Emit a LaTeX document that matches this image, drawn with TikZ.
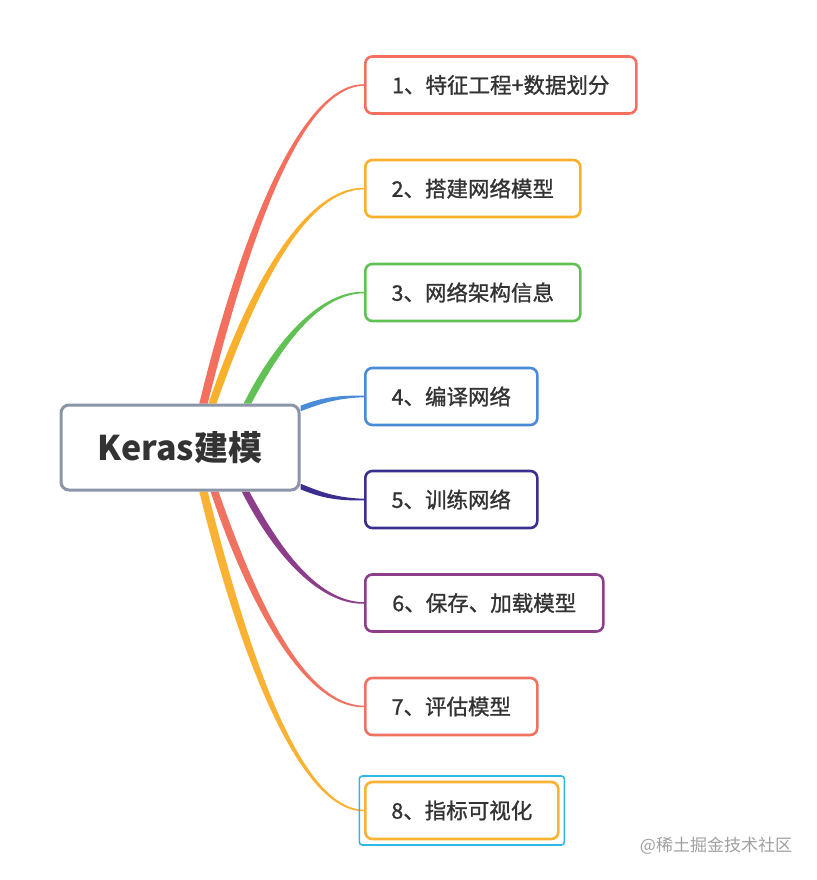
\documentclass[tikz,border=0pt]{standalone}
\usepackage{fontspec}
\setmainfont{Noto Sans CJK SC}
\newfontfamily\topicfont{Noto Sans CJK SC}[FakeBold=1.1]
\usetikzlibrary{calc,backgrounds}
\definecolor{cred}{HTML}{F46F5E}
\definecolor{corange}{HTML}{F9B02C}
\definecolor{cgreen}{HTML}{62C154}
\definecolor{cblue}{HTML}{4A8BD7}
\definecolor{cindigo}{HTML}{3A2F8E}
\definecolor{cpurple}{HTML}{8D3E8A}
\definecolor{csalmon}{HTML}{F07261}
\definecolor{corangeb}{HTML}{F9B233}
\definecolor{cgray}{HTML}{8C95A8}
\definecolor{ctext}{HTML}{333333}
\definecolor{ccyan}{HTML}{2EB8E6}
\definecolor{cmark}{HTML}{A0A0A0}
% vertical-ish tapered branch: #1 colour, #2 start, #3 end, #4 half width, #5 sign (1 up, -1 down)
\newcommand\vbranch[5]{%
 \fill[#1] let \p1=(#2), \p2=(#3), \n1={\x2-\x1}, \n2={\y2-\y1} in
  ({\x1-#4},{\y1}) .. controls ({\x1+0.25*\n1-1.1*#4},{\y1+0.51*\n2+(#5)*0.3*#4}) and ({\x1+0.6*\n1},{\y2+(#5)*0.45*#4}) .. ({\x2},{\y2+(#5)*0.75pt})
  -- ({\x2},{\y2-(#5)*0.75pt}) .. controls ({\x1+0.6*\n1},{\y2-(#5)*0.45*#4}) and ({\x1+0.25*\n1+1.1*#4},{\y1+0.51*\n2-(#5)*0.3*#4}) .. ({\x1+#4},{\y1}) -- cycle;}
% horizontal-ish tapered branch
\newcommand\hbranch[4]{%
 \fill[#1] let \p1=(#2), \p2=(#3), \n1={\x2-\x1}, \n2={\y2-\y1} in
  ({\x1},{\y1-#4}) .. controls ({\x1+0.3*\n1},{\y1+0.6*\n2-#4}) and ({\x1+0.55*\n1},{\y2-0.6*#4}) .. ({\x2},{\y2-0.75pt})
  -- ({\x2},{\y2+0.75pt}) .. controls ({\x1+0.55*\n1},{\y2+0.6*#4}) and ({\x1+0.3*\n1},{\y1+0.6*\n2+#4}) .. ({\x1},{\y1+#4}) -- cycle;}
\begin{document}
\begin{tikzpicture}[x=1pt,y=-1pt,
  rootbox/.style={draw=cgray,line width=3pt,rounded corners=8pt,fill=white,
    minimum width=238pt,minimum height=85pt,inner sep=0pt,
    font=\fontsize{34}{36}\selectfont\bfseries,text=ctext},
  topic/.style={draw=#1,line width=2.6pt,rounded corners=7pt,fill=white,
    minimum height=57pt,inner sep=0pt,anchor=west,
    font=\topicfont\fontsize{21.5}{24}\selectfont,text=ctext}]
\useasboundingbox (0,0) rectangle (816,880);
\node[rootbox] (root) at (180,447.5) {Keras建模};
\node[topic=cred,minimum width=271pt] (b1) at (364,85) {1、特征工程+数据划分};
\node[topic=corange,minimum width=215pt] (b2) at (364,188.5) {2、搭建网络模型};
\node[topic=cgreen,minimum width=215pt] (b3) at (364,292.5) {3、网络架构信息};
\node[topic=cblue,minimum width=172pt] (b4) at (364,396.5) {4、编译网络};
\node[topic=cindigo,minimum width=172pt] (b5) at (364,499.5) {5、训练网络};
\node[topic=cpurple,minimum width=238pt] (b6) at (364,603) {6、保存、加载模型};
\node[topic=csalmon,minimum width=172pt] (b7) at (364,706.5) {7、评估模型};
\node[topic=corangeb,minimum width=193pt] (b8) at (364,810.5) {8、指标可视化};
\node[draw=ccyan,line width=1.6pt,rounded corners=3pt,inner sep=0pt,
  minimum width=205pt,minimum height=69pt] (sel) at (b8.center) {};
\node[font=\fontsize{17}{20}\selectfont,text=cmark] (mark) at (716,846) {@稀土掘金技术社区};
\begin{scope}[on background layer]
\fill[white] (0,0) rectangle (816,880);
\coordinate (s1) at ($(root.north west)+(144,0)$);
\coordinate (s2) at ($(root.north west)+(153,0)$);
\coordinate (s3) at ($(root.north west)+(188,0)$);
\coordinate (s4) at ($(root.north east)+(0,5)$);
\coordinate (s5) at ($(root.south east)+(0,-5)$);
\coordinate (s6) at ($(root.south west)+(186,0)$);
\coordinate (s7) at ($(root.south west)+(155,0)$);
\coordinate (s8) at ($(root.south west)+(144,0)$);
\vbranch{cred}{s1}{b1.west}{4.2pt}{1}
\vbranch{corange}{s2}{b2.west}{4pt}{1}
\vbranch{cgreen}{s3}{b3.west}{3.8pt}{1}
\hbranch{cblue}{s4}{b4.west}{2.8pt}
\hbranch{cindigo}{s5}{b5.west}{2.8pt}
\vbranch{cpurple}{s6}{b6.west}{3.8pt}{-1}
\vbranch{csalmon}{s7}{b7.west}{4pt}{-1}
\vbranch{corangeb}{s8}{b8.west}{4.2pt}{-1}
\end{scope}
\end{tikzpicture}
\end{document}
